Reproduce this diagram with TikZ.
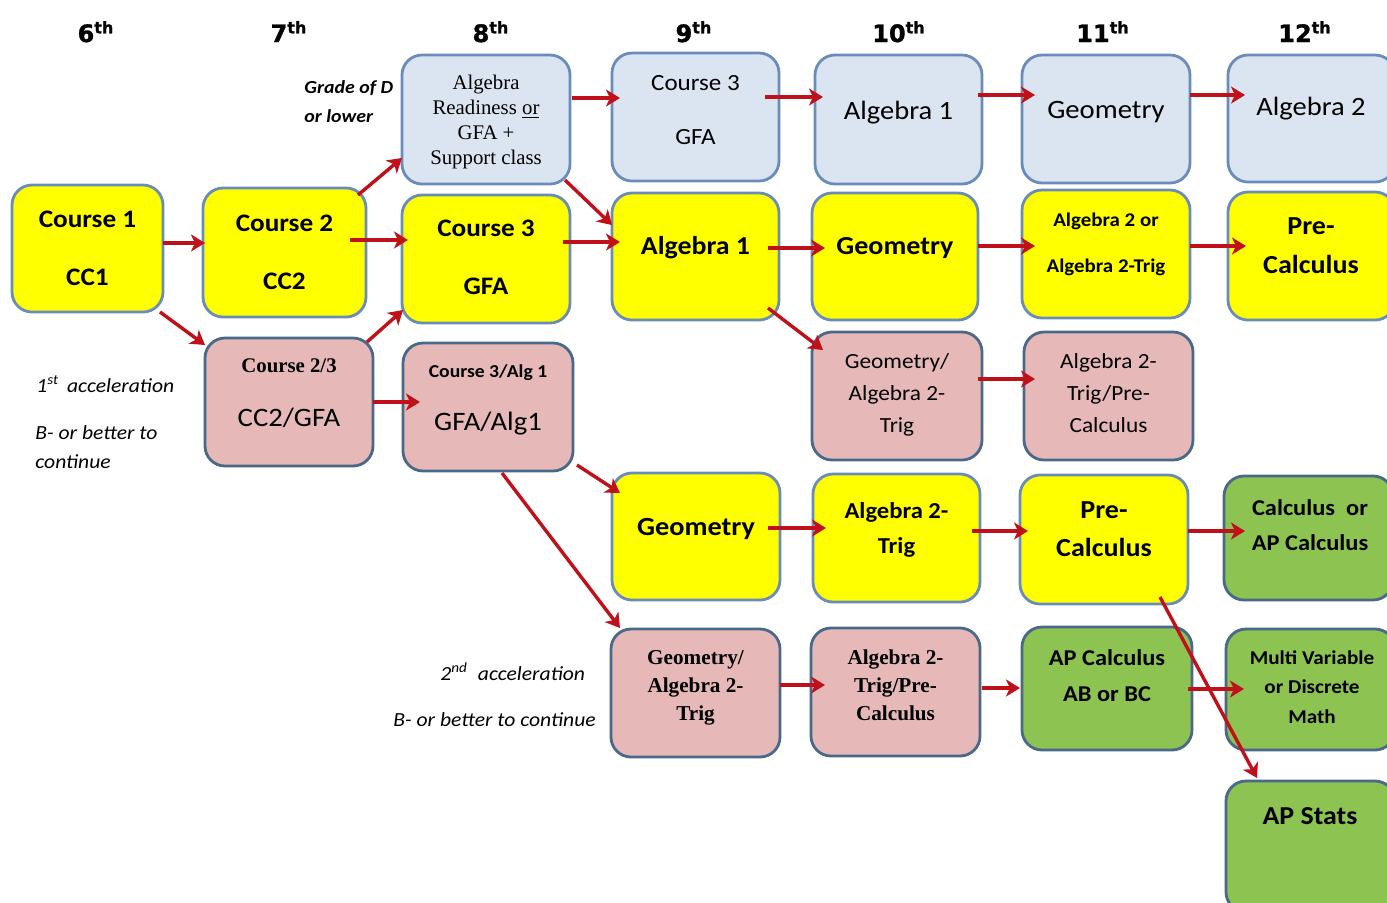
\documentclass[tikz,border=0pt]{standalone}
\usepackage{fontspec}
\setmainfont{Carlito}[FakeStretch=1.08]
\newfontfamily\timesf{Liberation Serif}
\newfontfamily\headf{DejaVu Sans}[FakeBold=1.2]
\usetikzlibrary{arrows.meta,calc}

\definecolor{yfill}{HTML}{FFFF00}
\definecolor{bfill}{HTML}{DBE5F1}
\definecolor{pfill}{HTML}{E6B9B8}
\definecolor{gfill}{HTML}{8DC351}
\definecolor{edgeL}{HTML}{6A8CBA}
\definecolor{edgeD}{HTML}{4A6888}
\definecolor{arrred}{HTML}{C0101A}

\newcommand\fsz[2]{\fontsize{#1}{#2}\selectfont}
% course box: style, left, top, right, bottom (pixel units), name
\newcommand\course[6]{%
  \node[#1, minimum width={(#4-#2)*0.5pt}, minimum height={(#5-#3)*0.5pt}]
    (#6) at ({(#2+#4)/2},{(#3+#5)/2}) {};}

\tikzset{
  crsbox/.style={draw, rounded corners=10pt, line width=1.4pt, inner sep=0pt, outer sep=0pt},
  yelbox/.style={crsbox, fill=yfill, draw=edgeL},
  blubox/.style={crsbox, fill=bfill, draw=edgeL},
  pnkbox/.style={crsbox, fill=pfill, draw=edgeD},
  grnbox/.style={crsbox, fill=gfill, draw=edgeD},
  % multi-line texts are placed by the baseline of their last line
  txt/.style={inner sep=0pt, outer sep=0pt, anchor=base, align=center},
  hd/.style={inner sep=0pt, anchor=base, font=\headf\bfseries\fsz{12}{14}},
  lbl/.style={inner sep=0pt, anchor=base west, align=left, font=\itshape\fsz{10}{14.5}},
  arr/.style={draw=arrred, line width=1.7pt, -{Stealth[length=7pt,width=8.5pt,inset=2pt]}},
}

\begin{document}
\begin{tikzpicture}[x=0.5pt, y=-0.5pt]
\useasboundingbox (0,0) rectangle (1387,902);
\fill[white] (0,0) rectangle (1387,902);
\clip (0,0) rectangle (1387,902);

% grade headings
\node[hd] (h6)  at (96,42)   {6\textsuperscript{th}};
\node[hd] (h7)  at (289,42)  {7\textsuperscript{th}};
\node[hd] (h8)  at (491,42)  {8\textsuperscript{th}};
\node[hd] (h9)  at (694,42)  {9\textsuperscript{th}};
\node[hd] (h10) at (899,42)  {10\textsuperscript{th}};
\node[hd] (h11) at (1103,42) {11\textsuperscript{th}};
\node[hd] (h12) at (1305,42) {12\textsuperscript{th}};

% course boxes
\course{yelbox}{12}{185}{163}{312}{c1}
\course{yelbox}{203}{188}{366}{317}{c2}
\course{pnkbox}{205}{338}{373}{466}{c23}
\course{blubox}{402}{55}{570}{184}{ar}
\course{yelbox}{402}{195}{570}{323}{c3y}
\course{pnkbox}{403}{343}{573}{471}{c3a}
\course{blubox}{612}{53}{779}{181}{c3b}
\course{yelbox}{612}{193}{779}{320}{a1y}
\course{yelbox}{612}{473}{780}{600}{g9}
\course{pnkbox}{611}{629}{780}{757}{ga9}
\course{blubox}{815}{55}{982}{184}{a1b}
\course{yelbox}{812}{193}{978}{320}{g10}
\course{pnkbox}{812}{332}{982}{460}{ga10}
\course{yelbox}{813}{474}{980}{602}{at10}
\course{pnkbox}{811}{628}{980}{756}{atp10}
\course{blubox}{1022}{55}{1190}{183}{gb11}
\course{yelbox}{1022}{190}{1190}{318}{a2o}
\course{pnkbox}{1024}{332}{1193}{460}{atp11}
\course{yelbox}{1020}{475}{1188}{604}{pc11}
\course{grnbox}{1022}{627}{1192}{750}{ap11}
\course{blubox}{1228}{55}{1395}{182}{a2b}
\course{yelbox}{1228}{192}{1395}{320}{pc12}
\course{grnbox}{1224}{476}{1393}{600}{cal12}
\course{grnbox}{1226}{629}{1395}{750}{mv12}
\course{grnbox}{1226}{781}{1395}{912}{aps}

% box texts
\node[txt, font=\bfseries\fsz{12.6}{29}] (t-c1) at (87.5,285) {Course 1\\CC1};
\node[txt, font=\bfseries\fsz{12.6}{29}] (t-c2) at (284.5,289) {Course 2\\CC2};
\node[txt, font=\bfseries\fsz{12.6}{29}] (t-c3y) at (486,294) {Course 3\\GFA};
\node[txt, font=\timesf\bfseries\fsz{10.4}{13}] (t-c23a) at (289,372) {Course 2/3};
\node[txt, font=\fsz{13.3}{15}] (t-c23b) at (289,426) {CC2/GFA};
\node[txt, font=\bfseries\fsz{9.1}{11}] (t-c3aa) at (488,377) {Course 3/Alg 1};
\node[txt, font=\fsz{13.3}{15}] (t-c3ab) at (488,430) {GFA/Alg1};
\node[txt, font=\timesf\fsz{10.4}{12.5}] (t-ar) at (486,164)
  {Algebra\\Readiness \underline{or}\\GFA +\\Support class};
\node[txt, font=\fsz{11.6}{27}] (t-c3b) at (695.5,144) {Course 3\\GFA};
\node[txt, font=\fsz{13.2}{15}] (t-a1b) at (898.5,119) {Algebra 1};
\node[txt, font=\fsz{13.3}{15}] (t-gb11) at (1106,118) {Geometry};
\node[txt, font=\fsz{13.2}{15}] (t-a2b) at (1311,115) {Algebra 2};
\node[txt, font=\bfseries\fsz{12.9}{15}] (t-a1y) at (695.5,254) {Algebra 1};
\node[txt, font=\bfseries\fsz{13}{15}] (t-g10) at (895,254) {Geometry};
\node[txt, font=\bfseries\fsz{9.7}{23}] (t-a2o) at (1106,272) {Algebra 2 or\\Algebra 2-Trig};
\node[txt, font=\bfseries\fsz{13}{19.5}] (t-pc12) at (1311,273) {Pre-\\Calculus};
\node[txt, font=\fsz{10.8}{16}] (t-ga10) at (897,432) {Geometry/\\Algebra 2-\\Trig};
\node[txt, font=\fsz{10.8}{16}] (t-atp11) at (1108.5,432) {Algebra 2-\\Trig/Pre-\\Calculus};
\node[txt, font=\bfseries\fsz{13.1}{15}] (t-g9) at (696,535) {Geometry};
\node[txt, font=\bfseries\fsz{11.4}{17.5}] (t-at10) at (896.5,553) {Algebra 2-\\Trig};
\node[txt, font=\bfseries\fsz{13}{19}] (t-pc11) at (1104,556) {Pre-\\Calculus};
\node[txt, font=\bfseries\fsz{11.3}{17.5}] (t-cal12) at (1310,550) {Calculus\ \ or\\AP Calculus};
\node[txt, font=\timesf\bfseries\fsz{10.6}{14}] (t-ga9) at (695.5,720) {Geometry/\\Algebra 2-\\Trig};
\node[txt, font=\timesf\bfseries\fsz{10.6}{14}] (t-atp10) at (895.5,720) {Algebra 2-\\Trig/Pre-\\Calculus};
\node[txt, font=\bfseries\fsz{11.3}{18}] (t-ap11) at (1107,701) {AP Calculus\\AB or BC};
\node[txt, font=\bfseries\fsz{9.8}{14.75}] (t-mv12) at (1312,723) {Multi Variable\\or Discrete\\Math};
\node[txt, font=\bfseries\fsz{12.9}{15}] (t-aps) at (1310,824) {AP Stats};

% side notes
\node[lbl, font=\bfseries\itshape\fsz{9.2}{14.5}] (n-grade) at (304,122) {Grade of D\\or lower};
\node[lbl] (n-acc1) at (36,392) {1\textsuperscript{st}\hspace{4pt}acceleration};
\node[lbl] (n-b1) at (35,468) {B- or better to\\continue};
\node[lbl] (n-acc2) at (440,680) {2\textsuperscript{nd}\hspace{5pt}acceleration};
\node[lbl] (n-b2) at (393,726) {B- or better to continue};

% pathways
\draw[arr] (c1.east|-0,243) -- ($(c2.west|-0,243)+(2,0)$);
\draw[arr] ($(c1.south east)+(-3,0)$) -- ($(c23.north west)+(0,7)$);
\draw[arr] ($(c2.north east)+(-8,7)$) -- ($(ar.south west)+(0,-26)$);
\draw[arr] ($(c2.east|-0,240)+(-16,0)$) -- ($(c3y.west|-0,240)+(6,0)$);
\draw[arr] ($(c23.north east)+(-6,4)$) -- ($(c3y.south west)+(1,-13)$);
\draw[arr] (c23.east|-0,402) -- ($(c3a.west|-0,402)+(17,0)$);
\draw[arr] ($(ar.east|-0,98)+(2,0)$) -- ($(c3b.west|-0,98)+(8,0)$);
\draw[arr] ($(ar.south east)+(-5,-4)$) -- ($(a1y.north west)+(0,32)$);
\draw[arr] ($(c3y.east|-0,242)+(-7,0)$) -- ($(a1y.west|-0,242)+(8,0)$);
\draw[arr] ($(c3a.south east)+(4,-6)$) -- ($(g9.north west)+(8,20)$);
\draw[arr] ($(c3a.south)+(14,2)$) -- ($(ga9.north west)+(9,-1)$);
\draw[arr] ($(c3b.east|-0,97)+(-14,0)$) -- ($(a1b.west|-0,97)+(8,0)$);
\draw[arr] ($(a1y.east|-0,248)+(-11,0)$) -- ($(g10.west|-0,248)+(13,0)$);
\draw[arr] ($(a1y.south east)+(-11,-12)$) -- ($(ga10.north west)+(11,18)$);
\draw[arr] ($(a1b.east|-0,95)+(-4,0)$) -- ($(gb11.west|-0,95)+(13,0)$);
\draw[arr] (g10.east|-0,246) -- ($(a2o.west|-0,246)+(13,0)$);
\draw[arr] ($(ga10.east|-0,379)+(-4,0)$) -- ($(atp11.west|-0,379)+(11,0)$);
\draw[arr] ($(g9.east|-0,528)+(-12,0)$) -- ($(at10.west|-0,528)+(13,0)$);
\draw[arr] (ga9.east|-0,685) -- ($(atp10.west|-0,685)+(14,0)$);
\draw[arr] (gb11.east|-0,95) -- ($(a2b.west|-0,95)+(17,0)$);
\draw[arr] (a2o.east|-0,246) -- ($(pc12.west|-0,246)+(18,0)$);
\draw[arr] ($(at10.east|-0,531)+(-8,0)$) -- ($(pc11.west|-0,531)+(8,0)$);
\draw[arr] (pc11.east|-0,531) -- ($(cal12.west|-0,531)+(21,0)$);
\draw[arr] ($(atp10.east|-0,688)+(2,0)$) -- ($(ap11.west|-0,688)+(-2,0)$);
\draw[arr] ($(ap11.east|-0,689)+(-4,0)$) -- ($(mv12.west|-0,689)+(18,0)$);
\draw[arr] ($(pc11.south east)+(-28,-7)$) -- ($(aps.north west)+(31,-3)$);
\end{tikzpicture}
\end{document}
